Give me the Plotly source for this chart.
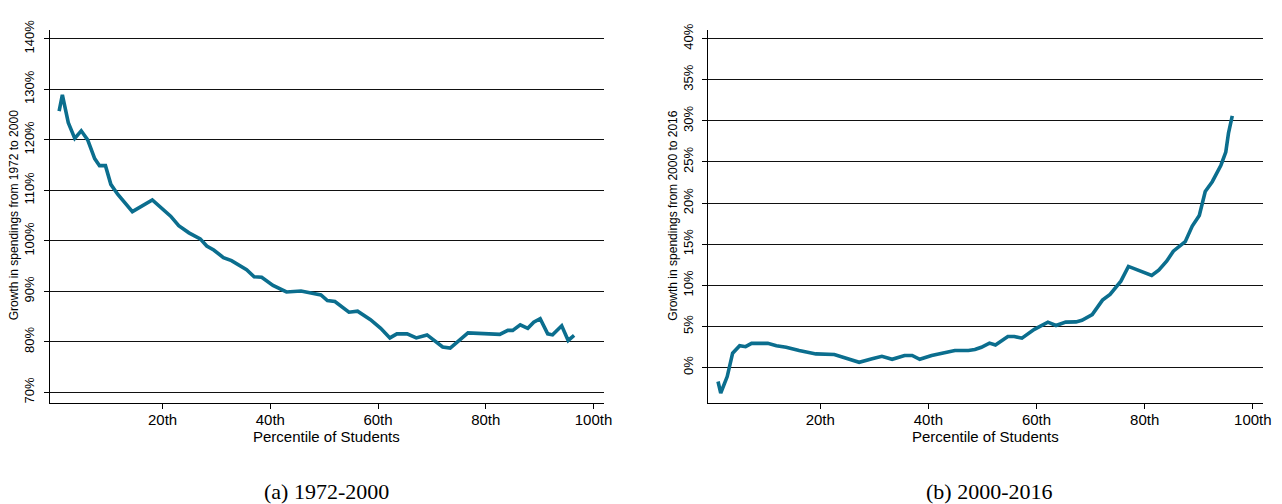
import plotly.graph_objects as go

# ---- Data ----
pct_a = [0.8, 1.4, 2.5, 3.7, 4.9, 6.1, 7.4, 8.3, 9.4, 10.4, 11.7, 12.9, 14.4,
         18.1, 21.5, 23.0, 24.9, 27.0, 28.2, 29.5, 31.3, 32.8, 34.4, 35.6, 37.0,
         38.4, 40.5, 43.0, 45.7, 47.3, 49.4, 50.6, 52.0, 54.6, 56.2, 58.6, 60.5,
         62.2, 63.5, 65.4, 67.1, 69.1, 70.8, 72.0, 73.4, 76.7, 82.6, 84.1, 85.0,
         86.4, 87.8, 88.9, 90.1, 91.5, 92.4, 94.1, 95.3, 96.4]
growth_a = [125.7, 128.9, 123.4, 120.3, 121.8, 120.0, 116.3, 114.9, 114.9, 111.2,
            109.2, 107.6, 105.8, 108.1, 104.9, 103.0, 101.6, 100.4, 99.0, 98.2,
            96.7, 96.1, 95.0, 94.3, 92.9, 92.8, 91.2, 89.9, 90.1, 89.7, 89.3,
            88.2, 88.0, 85.9, 86.1, 84.4, 82.7, 80.8, 81.6, 81.6, 80.8, 81.4,
            80.1, 79.0, 78.8, 81.8, 81.5, 82.3, 82.3, 83.4, 82.7, 83.9, 84.6,
            81.6, 81.4, 83.2, 80.3, 81.3]

pct_b = [1.1, 1.6, 2.8, 3.8, 5.1, 6.2, 7.3, 10.3, 11.9, 13.7, 16.1, 19.2, 22.6,
         24.7, 27.2, 29.6, 31.4, 33.3, 35.6, 37.0, 38.4, 40.6, 44.9, 47.4, 48.6,
         49.8, 51.3, 52.4, 54.7, 55.9, 57.3, 59.6, 62.1, 63.6, 65.4, 67.3, 68.4,
         70.3, 72.2, 73.6, 75.6, 77.0, 81.3, 82.6, 84.1, 85.3, 86.3, 87.5, 88.8,
         90.1, 91.2, 92.5, 94.1, 95.0, 95.5, 96.2]
growth_b = [-1.7, -3.1, -1.1, 1.75, 2.66, 2.54, 2.94, 2.94, 2.66, 2.46, 2.07, 1.66,
            1.59, 1.19, 0.64, 1.07, 1.36, 1.0, 1.47, 1.47, 1.0, 1.47, 2.07, 2.07,
            2.19, 2.46, 2.97, 2.74, 3.77, 3.77, 3.57, 4.64, 5.52, 5.11, 5.52, 5.55,
            5.75, 6.45, 8.2, 8.9, 10.5, 12.3, 11.2, 11.85, 12.96, 14.15, 14.7, 15.3,
            17.2, 18.5, 21.4, 22.6, 24.6, 26.2, 28.5, 30.6]

x_ticks = [20, 40, 60, 80, 100]
x_tick_labels = ["20th", "40th", "60th", "80th", "100th"]
y_ticks_a = [70, 80, 90, 100, 110, 120, 130, 140]
y_tick_labels_a = ["70%", "80%", "90%", "100%", "110%", "120%", "130%", "140%"]
y_ticks_b = [0, 5, 10, 15, 20, 25, 30, 35, 40]
y_tick_labels_b = ["0%", "5%", "10%", "15%", "20%", "25%", "30%", "35%", "40%"]

x_title = "Percentile of Students"
y_title_a = "Growth in spendings from 1972 to 2000"
y_title_b = "Growth in spendings from 2000 to 2016"
caption_a = "(a) 1972-2000"
caption_b = "(b) 2000-2016"

# ---- Figure ----
W, H = 1282, 504
LINE_COLOR = "#0b6e8e"
SANS = "Liberation Sans, Arial, sans-serif"
SERIF = "Liberation Serif, Times New Roman, serif"

fig = go.Figure()
fig.add_trace(go.Scatter(x=pct_a, y=growth_a, mode="lines", xaxis="x", yaxis="y",
                         line=dict(color=LINE_COLOR, width=3.6), showlegend=False,
                         hoverinfo="skip"))
fig.add_trace(go.Scatter(x=pct_b, y=growth_b, mode="lines", xaxis="x2", yaxis="y2",
                         line=dict(color=LINE_COLOR, width=3.6), showlegend=False,
                         hoverinfo="skip"))

def xpx(a, b):
    return [a / W, b / W]

ydom = [1 - 401.5 / H, 1 - 20 / H]

common_x = dict(showline=True, linecolor="black", linewidth=1, ticks="outside",
                ticklen=5, tickwidth=1, tickcolor="black", showgrid=False,
                zeroline=False, tickvals=x_ticks, ticktext=x_tick_labels,
                ticklabelstandoff=-2,
                tickfont=dict(family=SANS, size=15, color="black"))
common_y = dict(showline=True, linecolor="black", linewidth=1, ticks="outside",
                ticklen=5, tickwidth=1, tickcolor="black", showgrid=True,
                gridcolor="#111111", gridwidth=1, zeroline=False,
                tickangle=-90, ticklabelstandoff=4,
                tickfont=dict(family=SANS, size=13, color="black"))

fig.update_layout(
    width=W, height=H,
    margin=dict(l=0, r=0, t=0, b=0),
    paper_bgcolor="white", plot_bgcolor="white",
    xaxis=dict(domain=xpx(50, 608), range=[-0.96, 101.9], anchor="y", **common_x),
    yaxis=dict(domain=ydom, range=[67.97, 141.84], anchor="x", tickvals=y_ticks_a,
               ticktext=y_tick_labels_a, **common_y),
    xaxis2=dict(domain=xpx(713.3, 1271.7), range=[-0.7, 101.84], anchor="y2", **common_x),
    yaxis2=dict(domain=ydom, range=[-4.28, 41.1], anchor="x2", tickvals=y_ticks_b,
                ticktext=y_tick_labels_b, **common_y),
)

def ann(text, x, y, size, family, angle=0):
    fig.add_annotation(text=text, x=x / W, y=1 - y / H, xref="paper", yref="paper",
                       showarrow=False, textangle=angle, xanchor="center",
                       yanchor="middle", font=dict(family=family, size=size, color="black"))

ann(x_title, 329, 436, 15, SANS)
ann(x_title, 992, 436, 15, SANS)
ann(y_title_a, 15, 210, 12, SANS, -90)
ann(y_title_b, 678, 210, 12, SANS, -90)
ann(caption_a, 329, 492, 22, SERIF)
ann(caption_b, 996, 492, 22, SERIF)

fig.write_html("out.html", config={"displayModeBar": False},
               post_script="document.body.style.margin='0';document.body.style.overflow='hidden';")
